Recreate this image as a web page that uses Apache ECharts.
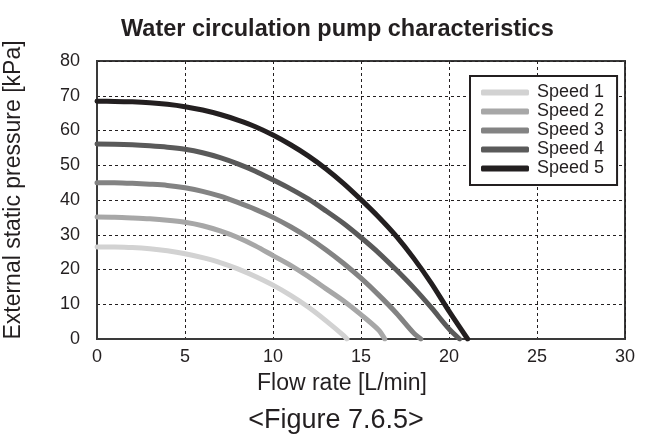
<!DOCTYPE html>
<html>
<head>
<meta charset="utf-8">
<script src="https://cdn.jsdelivr.net/npm/echarts@6/dist/echarts.min.js"></script>
<style>
html,body{margin:0;padding:0;background:#fff;}
#chart{width:648px;height:446px;}
</style>
</head>
<body>
<div id="chart"></div>
<script>
// Data: [flow L/min, pressure kPa]
const speedNames = ['Speed 1', 'Speed 2', 'Speed 3', 'Speed 4', 'Speed 5'];
const speed1 = [[0,26.5],[1,26.46],[2,26.3],[3,25.95],[4,25.37],[5,24.54],[6,23.4],[7,22.0],[8,20.2],[9,18.0],[10,15.5],[11,12.55],[12,9.2],[13,5.3],[14,1.06],[14.2,0]];
const speed2 = [[0,35.1],[1,35.04],[2,34.85],[3,34.6],[4,34.2],[5,33.6],[6,32.6],[7,31.1],[8,29.2],[9,26.8],[10,24.0],[11,21.2],[12,18.0],[13,14.5],[14,11.0],[15,7.0],[16,2.6],[16.35,0]];
const speed3 = [[0,45.0],[1,44.97],[2,44.8],[3,44.55],[4,44.2],[5,43.5],[6,42.5],[7,41.1],[8,39.3],[9,37.3],[10,35.0],[11,32.3],[12,29.2],[13,25.7],[14,21.8],[15,17.5],[16,12.7],[17,7.5],[18,1.7],[18.4,0]];
const speed4 = [[0,56.1],[1,56.06],[2,55.9],[3,55.6],[4,55.2],[5,54.6],[6,53.6],[7,52.2],[8,50.4],[9,48.3],[10,45.8],[11,43.2],[12,40.3],[13,36.9],[14,33.3],[15,29.2],[16,24.8],[17,19.9],[18,14.7],[19,9.0],[20,2.9],[20.6,0]];
const speed5 = [[0,68.4],[1,68.38],[2,68.26],[3,68.0],[4,67.54],[5,66.85],[6,65.9],[7,64.6],[8,63.0],[9,61.1],[10,58.7],[11,55.9],[12,52.7],[13,49.0],[14,44.8],[15,40.1],[16,35.1],[17,29.6],[18,23.2],[19,16.0],[20,8.0],[21.06,0]];
const xTicks = [0, 5, 10, 15, 20, 25, 30];
const yTicks = [0, 10, 20, 30, 40, 50, 60, 70, 80];

const colors = ['#d2d2d2', '#a7a7a7', '#838383', '#5a5a5a', '#231f20'];
const allSeries = [speed1, speed2, speed3, speed4, speed5];

const chart = echarts.init(document.getElementById('chart'), null, {renderer: 'canvas'});
const font = 'Liberation Sans, Arial, Helvetica, sans-serif';
const txt = '#231f20';

chart.setOption({
  animation: false,
  backgroundColor: '#ffffff',
  textStyle: {fontFamily: font},
  title: {
    text: 'Water circulation pump characteristics',
    left: 116,
    top: 13,
    textStyle: {fontFamily: font, fontSize: 23.5, fontWeight: 'bold', color: txt}
  },
  grid: {left: 97, right: 23, top: 61, bottom: 107, show: true, borderColor: '#3a3a3a', borderWidth: 2, backgroundColor: 'transparent'},
  legend: {
    orient: 'vertical',
    left: 470,
    top: 76,
    padding: [7, 13, 7, 11],
    backgroundColor: '#ffffff',
    borderColor: '#231f20',
    borderWidth: 2,
    borderRadius: 0,
    itemWidth: 48,
    itemHeight: 6,
    itemGap: 0,
    icon: 'roundRect',
    data: speedNames,
    textStyle: {fontFamily: font, fontSize: 18, color: txt, lineHeight: 19, padding: [0, 0, 0, 3]}
  },
  xAxis: {
    type: 'value',
    min: xTicks[0],
    max: xTicks[xTicks.length - 1],
    interval: 5,
    axisLine: {show: true, lineStyle: {color: '#3a3a3a', width: 2}},
    axisTick: {show: false},
    axisLabel: {fontFamily: font, fontSize: 18, color: txt, margin: 9},
    splitLine: {show: true, lineStyle: {color: '#231f20', width: 1, type: [3, 3]}}
  },
  yAxis: {
    type: 'value',
    min: yTicks[0],
    max: yTicks[yTicks.length - 1],
    interval: 10,
    axisLine: {show: true, lineStyle: {color: '#3a3a3a', width: 2}},
    axisTick: {show: false},
    axisLabel: {fontFamily: font, fontSize: 18, color: txt, margin: 17},
    splitLine: {show: true, lineStyle: {color: '#231f20', width: 1, type: [3, 3]}}
  },
  graphic: [{
    type: 'text',
    x: 14,
    y: 190,
    rotation: Math.PI / 2,
    style: {text: 'External static pressure [kPa]', font: '23px ' + font, fill: txt, align: 'center', verticalAlign: 'middle'}
  }, {
    type: 'text',
    x: 342,
    y: 384,
    style: {text: 'Flow rate [L/min]', font: '23px ' + font, fill: txt, align: 'center', verticalAlign: 'middle'}
  }, {
    type: 'text',
    x: 336,
    y: 421,
    style: {text: '<Figure 7.6.5>', font: '27px ' + font, fill: txt, align: 'center', verticalAlign: 'middle'}
  }],
  series: allSeries.map((d, i) => ({
    name: speedNames[i],
    type: 'line',
    data: d,
    smooth: 0.3,
    showSymbol: false,
    symbol: 'none',
    color: colors[i],
    lineStyle: {color: colors[i], width: 5, cap: 'round', join: 'round'},
    z: 2 + i
  }))
});
</script>
</body>
</html>
